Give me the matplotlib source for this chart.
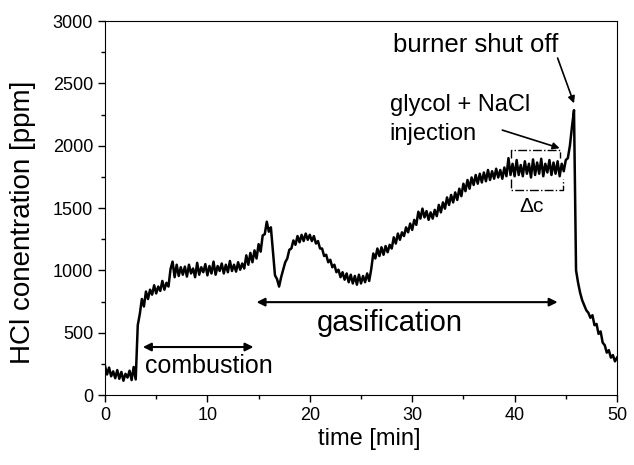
import numpy as np
import matplotlib.pyplot as plt

plt.rcParams['font.family'] = ['Liberation Sans', 'DejaVu Sans']

# HCl reading, one value every 0.2 min from 0 to 50 min
time_min = np.linspace(0, 50, 251)
hcl_ppm = [
    235, 165, 220, 150, 190, 135, 200, 130, 185, 115,
    170, 140, 195, 120, 225, 125, 560, 650, 770, 710,
    830, 770, 845, 805, 880, 815, 870, 835, 915, 845,
    900, 870, 1010, 1070, 945, 1045, 955, 1025, 965, 1030,
    950, 1045, 975, 1015, 945, 1060, 965, 1025, 985, 1050,
    960, 1035, 975, 1070, 965, 1035, 995, 1055, 975, 1045,
    985, 1075, 995, 1045, 990, 1065, 1005, 1055, 1015, 1120,
    1045, 1140, 1065, 1160, 1095, 1210, 1150, 1280, 1290, 1390,
    1310, 1345, 1150, 960, 930, 870, 945, 1005, 1065, 1095,
    1165, 1175, 1240, 1205, 1275, 1225, 1285, 1235, 1295, 1245,
    1285, 1235, 1275, 1215, 1235, 1175, 1175, 1115, 1125, 1065,
    1085, 1025, 1045, 985, 1005, 945, 985, 925, 975, 905,
    965, 895, 955, 885, 965, 895, 955, 905, 975, 915,
    1010, 1135, 1095, 1175, 1115, 1185, 1125, 1195, 1145, 1205,
    1175, 1265, 1215, 1295, 1245, 1305, 1275, 1345, 1305, 1375,
    1325, 1405, 1365, 1470, 1415, 1495, 1425, 1475, 1405, 1465,
    1415, 1485, 1435, 1525, 1465, 1545, 1495, 1585, 1525, 1605,
    1545, 1625, 1565, 1655, 1595, 1695, 1635, 1725, 1655, 1745,
    1685, 1765, 1695, 1775, 1705, 1785, 1715, 1805, 1725, 1795,
    1735, 1815, 1745, 1805, 1735, 1825, 1755, 1900, 1765, 1855,
    1755, 1885, 1765, 1845, 1755, 1875, 1775, 1855, 1745, 1890,
    1765, 1865, 1775, 1895, 1755, 1855, 1785, 1885, 1765, 1865,
    1775, 1875, 1755, 1855, 1795, 1885, 1900, 2000, 2150, 2285,
    1000, 900, 820, 760, 720, 680, 660, 620, 640, 560,
    570, 490, 510, 420, 400, 340, 360, 300, 320, 270,
    300,
]

fig = plt.figure(figsize=(6.34, 4.65), dpi=100)
ax = fig.add_axes([0.1656, 0.1505, 0.8076, 0.8043])

ax.plot(time_min, hcl_ppm, color='black', lw=1.8)

ax.set_xlim(0, 50)
ax.set_ylim(0, 3000)
ax.set_xticks([0, 10, 20, 30, 40, 50])
ax.set_xticks([5, 15, 25, 35, 45], minor=True)
ax.set_yticks(np.arange(0, 3001, 500))
ax.set_yticks(np.arange(250, 3000, 500), minor=True)
ax.tick_params(which='both', direction='out', top=False, right=False,
               labelsize=13, width=1)
ax.tick_params(which='major', length=5)
ax.tick_params(which='minor', length=3)
ax.set_xlabel('time [min]', fontsize=17, labelpad=3)
ax.xaxis.label.set_x(0.516)
ax.set_ylabel('HCl conentration [ppm]', fontsize=20, labelpad=12)
ax.yaxis.label.set_y(0.461)

# phase arrows
ax.annotate('', xy=(3.7, 385), xytext=(14.5, 385),
            arrowprops=dict(arrowstyle='<|-|>', color='black', lw=1.5,
                            mutation_scale=12, shrinkA=0, shrinkB=0))
ax.text(3.9, 230, 'combustion', fontsize=18, va='center', ha='left')
ax.annotate('', xy=(14.8, 745), xytext=(44.2, 745),
            arrowprops=dict(arrowstyle='<|-|>', color='black', lw=1.5,
                            mutation_scale=12, shrinkA=0, shrinkB=0))
ax.text(27.8, 575, 'gasification', fontsize=21, va='center', ha='center')

# event labels
ax.text(28.1, 2810, 'burner shut off', fontsize=18.5, va='center', ha='left')
ax.annotate('', xy=(45.8, 2340), xytext=(44.2, 2703),
            arrowprops=dict(arrowstyle='-|>', color='black', lw=1.2,
                            mutation_scale=10, shrinkA=0, shrinkB=0))
ax.text(27.8, 2330, 'glycol + NaCl', fontsize=17, va='center', ha='left')
ax.text(27.8, 2095, 'injection', fontsize=17, va='center', ha='left')
ax.annotate('', xy=(44.4, 1980), xytext=(38.8, 2125),
            arrowprops=dict(arrowstyle='-|>', color='black', lw=1.2,
                            mutation_scale=10, shrinkA=0, shrinkB=0))

# delta c brackets
ax.plot([39.6, 39.6, 44.4, 44.4], [1900, 1965, 1965, 1900],
        color='black', lw=1, ls='-.')
ax.plot([39.6, 39.6, 44.7, 44.7], [1730, 1645, 1645, 1730],
        color='black', lw=1, ls='-.')
ax.text(41.7, 1510, 'Δc', fontsize=15, va='center', ha='center')

fig.savefig('out.png', dpi=100)
